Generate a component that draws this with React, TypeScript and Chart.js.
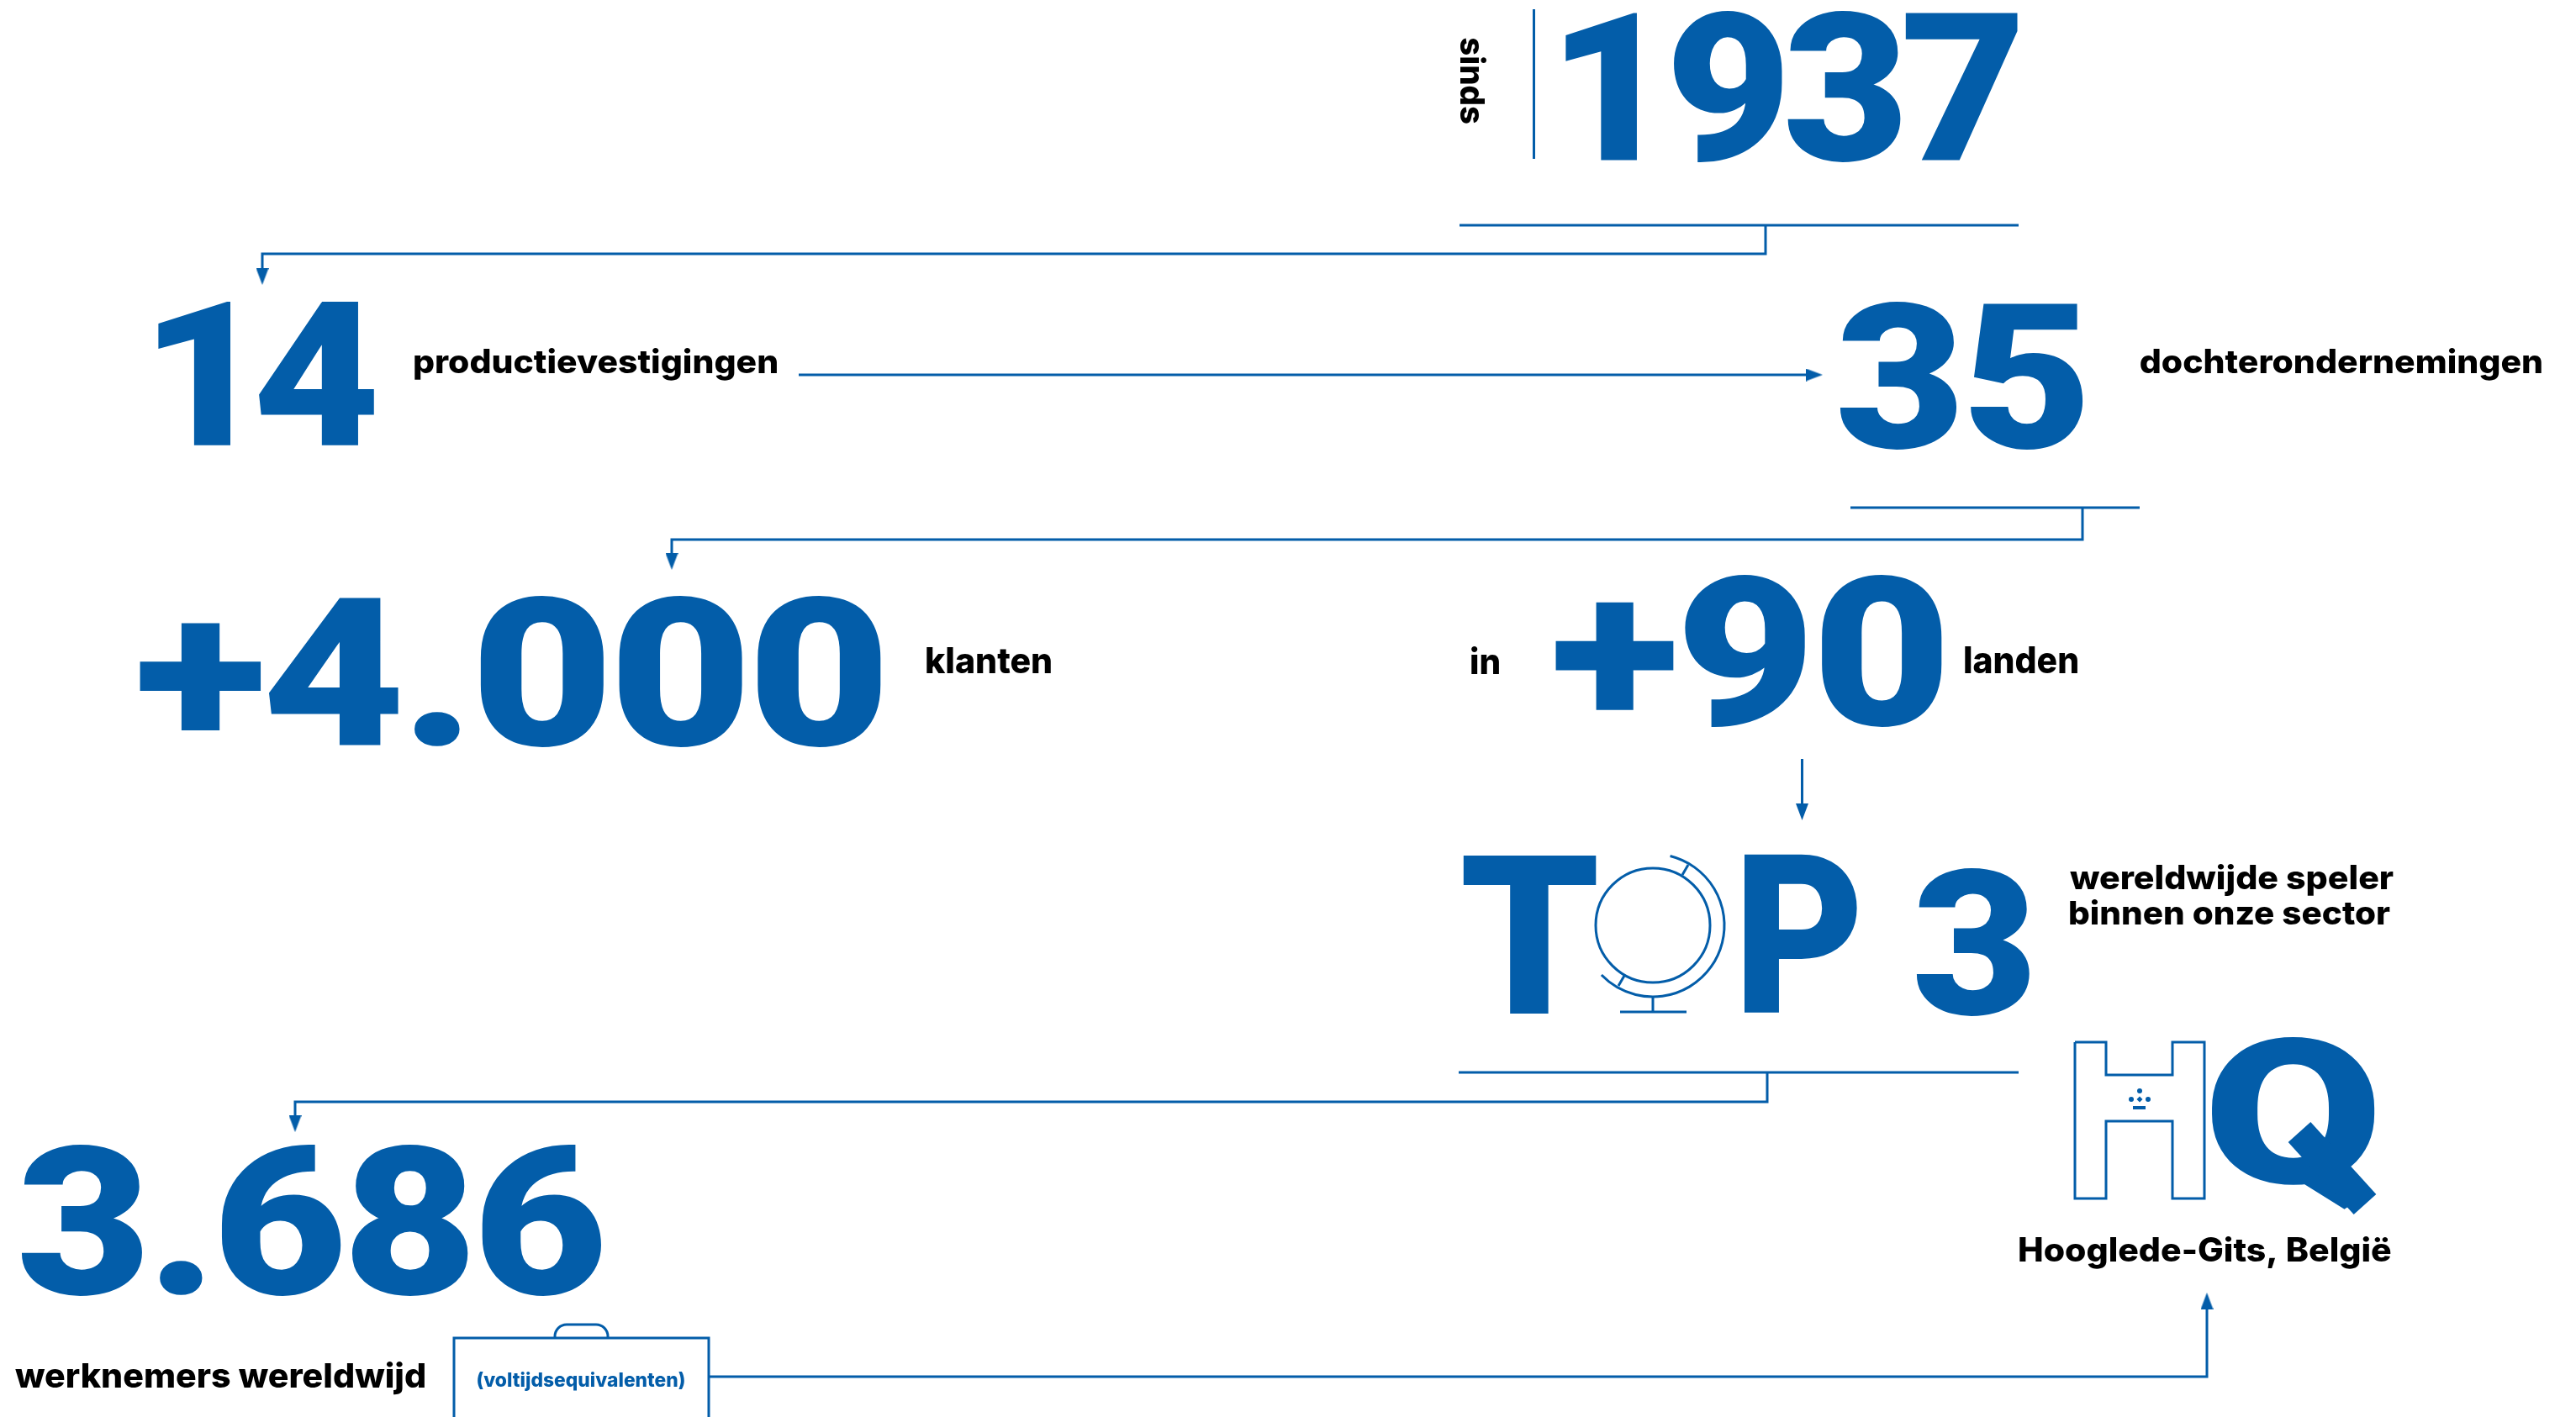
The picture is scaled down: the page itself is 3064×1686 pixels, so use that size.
import React, { useEffect, useRef } from "react";
import { Chart, registerables } from "chart.js";

Chart.register(...registerables);

const BLUE = "#035DA9";
const BLACK = "#000000";
const HEAVY = '900 200px Roboto, Inter, sans-serif';
const CAPTION_FONT = '800 60px Inter, Roboto, sans-serif';

// Text content
const YEAR = ["1937"];
const FIGURES = ["14", "35", "+4.000", "+90", "3.686"];
const RANK = ["T", "P", "3"];
const HQ_LETTER = ["Q"];
const CAPTIONS = [
  "productievestigingen",
  "dochterondernemingen",
  "klanten",
  "in",
  "landen",
  "wereldwijde speler",
  "binnen onze sector",
  "Hooglede-Gits, België",
  "werknemers wereldwijd",
];
const SIDE_CAPTION = ["sinds"];
const NOTE = ["(voltijdsequivalenten)"];

// Ink boxes: [left, right, top, bottom], in axis units
const YEAR_BOX = [[1862, 2400, 12, 193]];
const FIGURE_BOXES = [
  [188, 446, 358, 531],
  [2188, 2478, 358, 535],
  [166, 1048, 708, 889],
  [1850, 2310, 683, 865],
  [25, 716, 1361, 1542],
];
const FIGURE_TRACKING = [-14, -3, -4, -3, -4];
const YEAR_TRACKING = -8;
const RANK_BOXES = [
  [1740, 1899, 1017, 1206],
  [2074, 2209, 1017, 1206],
  [2279, 2415, 1032, 1209],
];
const HQ_BOX = [[2631, 2825, 1233, 1440]];
const CAPTION_BOXES = [
  [493, 924, 413, 452],
  [2546, 3023, 413, 452],
  [1102, 1250, 770, 802],
  [1750, 1783, 769, 802],
  [2337, 2471, 769, 802],
  [2462, 2847, 1027, 1066],
  [2462, 2843, 1070, 1101],
  [2402, 2844, 1470, 1509],
  [18, 505, 1620, 1659],
];
const SIDE_BOX = [[1736, 1768, 45, 147]];
const NOTE_BOX = [[568, 814, 1632, 1655]];

// Connector and outline paths as [x, y]
const PATHS: number[][][] = [
  [[1824.5, 11], [1824.5, 189]],
  [[1736, 268], [2401, 268]],
  [[2100, 268], [2100, 302], [312, 302], [312, 320]],
  [[950, 446], [2150, 446]],
  [[2201, 604], [2545, 604]],
  [[2477, 604], [2477, 642], [799, 642], [799, 659]],
  [[2143.5, 903], [2143.5, 957]],
  [[1735, 1276], [2401, 1276]],
  [[2102, 1276], [2102, 1311], [351, 1311], [351, 1328]],
  [[843, 1638], [2625, 1638], [2625, 1557]],
  [[540, 1686], [540, 1592], [843, 1592], [843, 1686]],
  [[2468, 1240], [2505, 1240], [2505, 1279], [2584, 1279], [2584, 1240], [2622, 1240], [2622, 1426], [2584, 1426], [2584, 1334], [2505, 1334], [2505, 1426], [2468, 1426], [2468, 1240]],
  [[1966, 1186], [1966, 1204]],
  [[1927, 1204], [2006, 1204]],
  [[2001, 1041], [2008, 1029]],
  [[1932, 1161], [1925, 1173]],
];
const BAR_PATHS: number[][][] = [[[2537, 1318], [2552, 1318]]];
const Q_TAIL = [[2735, 1347], [2813, 1433]];

// Arrowheads: [x, y, rotation]; crown beads: [x, y]
const ARROWS = [
  [312, 329, 180],
  [799, 668, 180],
  [351, 1337, 180],
  [2158, 446, 90],
  [2143.5, 966, 180],
  [2625, 1548, 0],
];
const BEADS = [[2545, 1298], [2535, 1308], [2555, 1308]];
const DIAMOND = [[2545, 1308]];

// Globe: [cx, cy, r, startDeg, endDeg]
const GLOBE_ARCS = [
  [1966, 1101, 68, 0, 360],
  [1966, 1101, 85, -76, 136],
];
// Case handle: [x, y] corners of its rounded arch
const HANDLE = [[660, 1592], [660, 1576], [723, 1576], [723, 1592]];

type Box = number[];

function fitText(ctx: any, text: string, box: Box, sx: any, sy: any, font: string, color: string, rotated = false, tracking = 0) {
  const L = sx.getPixelForValue(box[0]);
  const R = sx.getPixelForValue(box[1]);
  const T = sy.getPixelForValue(box[2]);
  const B = sy.getPixelForValue(box[3]);
  ctx.save();
  ctx.font = font;
  ctx.letterSpacing = `${tracking}px`;
  ctx.fillStyle = color;
  ctx.textAlign = "left";
  ctx.textBaseline = "alphabetic";
  const m = ctx.measureText(text);
  const w = m.actualBoundingBoxRight + m.actualBoundingBoxLeft;
  const h = m.actualBoundingBoxAscent + m.actualBoundingBoxDescent;
  if (rotated) {
    ctx.translate(R, T);
    ctx.rotate(Math.PI / 2);
    ctx.scale((B - T) / w, (R - L) / h);
    ctx.fillText(text, m.actualBoundingBoxLeft, m.actualBoundingBoxAscent);
  } else {
    ctx.translate(L, T);
    ctx.scale((R - L) / w, (B - T) / h);
    ctx.fillText(text, m.actualBoundingBoxLeft, m.actualBoundingBoxAscent);
  }
  ctx.restore();
}

const artPlugin = {
  id: "art",
  beforeDatasetsDraw(chart: any) {
    const { ctx, scales } = chart;
    const sx = scales.x;
    const sy = scales.y;
    HQ_LETTER.forEach((t, i) => fitText(ctx, t, HQ_BOX[i], sx, sy, HEAVY, BLUE));
  },
  afterDatasetsDraw(chart: any) {
    const { ctx, scales } = chart;
    const sx = scales.x;
    const sy = scales.y;
    YEAR.forEach((t, i) => fitText(ctx, t, YEAR_BOX[i], sx, sy, HEAVY, BLUE, false, YEAR_TRACKING));
    FIGURES.forEach((t, i) => fitText(ctx, t, FIGURE_BOXES[i], sx, sy, HEAVY, BLUE, false, FIGURE_TRACKING[i]));
    RANK.forEach((t, i) => fitText(ctx, t, RANK_BOXES[i], sx, sy, HEAVY, BLUE));
    CAPTIONS.forEach((t, i) => fitText(ctx, t, CAPTION_BOXES[i], sx, sy, CAPTION_FONT, BLACK));
    SIDE_CAPTION.forEach((t, i) => fitText(ctx, t, SIDE_BOX[i], sx, sy, CAPTION_FONT, BLACK, true));
    NOTE.forEach((t, i) => fitText(ctx, t, NOTE_BOX[i], sx, sy, CAPTION_FONT, BLUE));

    ctx.save();
    ctx.strokeStyle = BLUE;
    ctx.lineWidth = 3;
    GLOBE_ARCS.forEach(([cx, cy, r, a, b]) => {
      ctx.beginPath();
      ctx.arc(
        sx.getPixelForValue(cx),
        sy.getPixelForValue(cy),
        sx.getPixelForValue(r) - sx.getPixelForValue(0),
        (a * Math.PI) / 180,
        (b * Math.PI) / 180
      );
      ctx.stroke();
    });
    const h = HANDLE.map(([x, y]) => [sx.getPixelForValue(x), sy.getPixelForValue(y)]);
    ctx.beginPath();
    ctx.moveTo(h[0][0], h[0][1]);
    ctx.arcTo(h[1][0], h[1][1], h[2][0], h[2][1], 14);
    ctx.arcTo(h[2][0], h[2][1], h[3][0], h[3][1], 14);
    ctx.lineTo(h[3][0], h[3][1]);
    ctx.stroke();
    ctx.restore();
  },
};

const toPoints = (p: number[][]) => p.map(([x, y]) => ({ x, y }));

function arrowSprite() {
  const c = document.createElement("canvas");
  c.width = 15;
  c.height = 20;
  const g = c.getContext("2d") as CanvasRenderingContext2D;
  g.fillStyle = BLUE;
  g.beginPath();
  g.moveTo(7.5, 0);
  g.lineTo(15, 20);
  g.lineTo(0, 20);
  g.closePath();
  g.fill();
  return c;
}

export default function App() {
  const ref = useRef<HTMLCanvasElement>(null);
  useEffect(() => {
    document.body.style.margin = "0";
    const sprite = arrowSprite();
    const lineSets = PATHS.map((p) => ({
      type: "line" as const,
      data: toPoints(p),
      borderColor: BLUE,
      borderWidth: 3,
      pointRadius: 0,
      tension: 0,
      fill: false,
      borderCapStyle: "butt" as const,
      borderJoinStyle: "miter" as const,
      parsing: false as const,
    }));
    const barSets = BAR_PATHS.map((p) => ({
      type: "line" as const,
      data: toPoints(p),
      borderColor: BLUE,
      borderWidth: 4,
      pointRadius: 0,
      parsing: false as const,
    }));
    const tailSet = {
      type: "line" as const,
      data: toPoints(Q_TAIL),
      borderColor: BLUE,
      borderWidth: 36,
      pointRadius: 0,
      borderCapStyle: "butt" as const,
      parsing: false as const,
    };
    const arrowSets = ARROWS.map(([x, y, rotation]) => ({
      type: "scatter" as const,
      data: [{ x, y }],
      pointStyle: sprite,
      pointRadius: 10,
      pointRotation: rotation,
    }));
    const beadSet = {
      type: "scatter" as const,
      data: toPoints(BEADS),
      pointStyle: "circle" as const,
      pointRadius: 3,
      backgroundColor: BLUE,
      borderWidth: 0,
    };
    const diamondSet = {
      type: "scatter" as const,
      data: toPoints(DIAMOND),
      pointStyle: "rectRot" as const,
      pointRadius: 3.5,
      backgroundColor: BLUE,
      borderWidth: 0,
    };
    const chart = new Chart(ref.current as HTMLCanvasElement, {
      data: { datasets: [...lineSets, ...barSets, tailSet, ...arrowSets, beadSet, diamondSet] as any },
      options: {
        animation: false,
        responsive: false,
        maintainAspectRatio: false,
        layout: { padding: 0, autoPadding: false },
        plugins: { legend: { display: false }, tooltip: { enabled: false }, title: { display: false } },
        scales: {
          x: { type: "linear", min: 0, max: 3064, display: false },
          y: { type: "linear", min: 0, max: 1686, reverse: true, display: false },
        },
      },
      plugins: [artPlugin],
    });
    return () => chart.destroy();
  }, []);
  return <canvas ref={ref} width={3064} height={1686} style={{ display: "block", width: 3064, height: 1686 }} />;
}
